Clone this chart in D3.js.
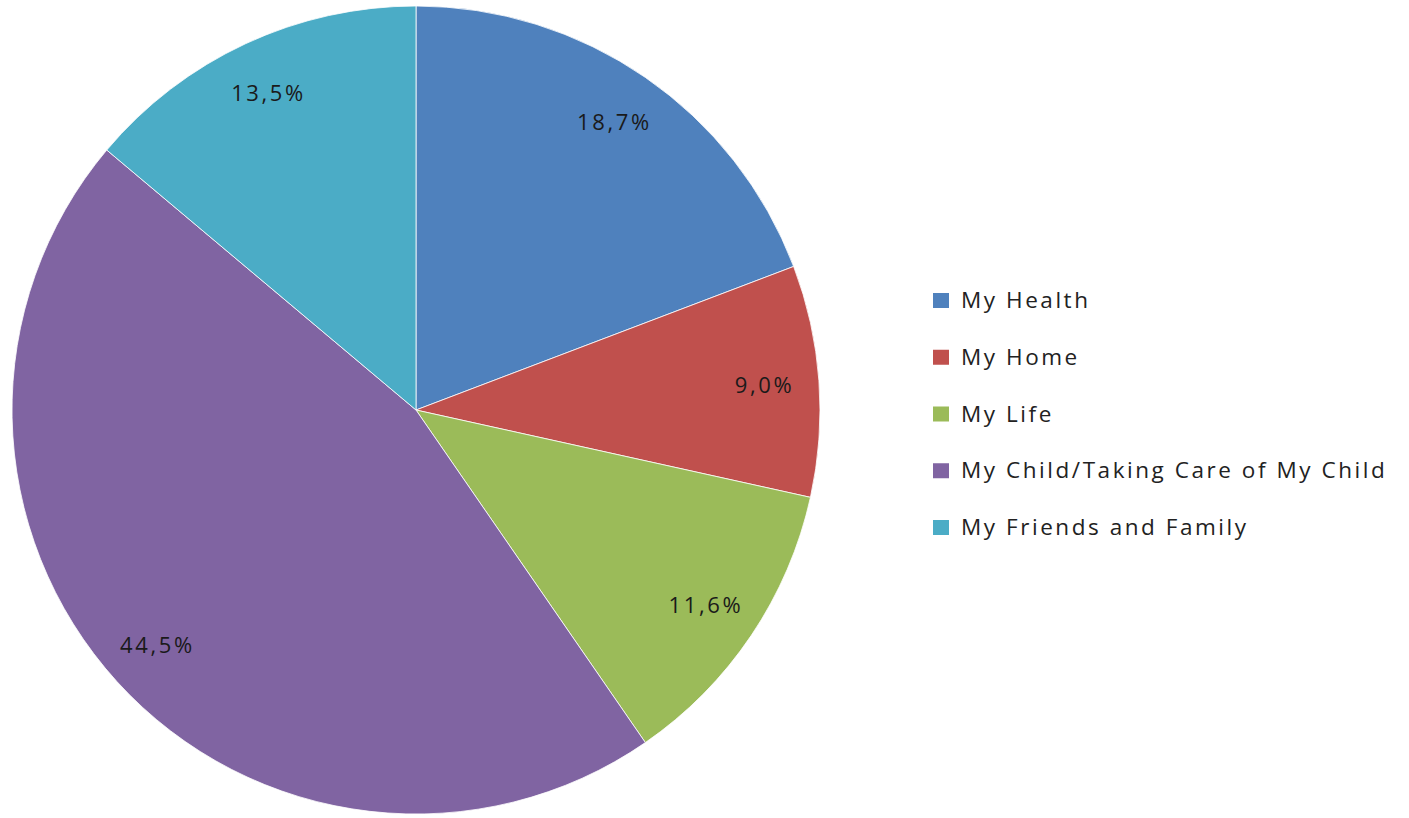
<!DOCTYPE html>
<html><head><meta charset="utf-8">
<script src="https://cdn.jsdelivr.net/npm/d3@7"></script>
<style>body{margin:0;background:#fff;} text{font-family:"Open Sans","Noto Sans",sans-serif;}</style>
</head><body>
<svg id="chart" width="1409" height="818"></svg>
<script>
const categories = ["My Health","My Home","My Life","My Child/Taking Care of My Child","My Friends and Family"];
const values = [18.7, 9.0, 11.6, 44.5, 13.5];
const colors = ["#4F81BD","#C0504D","#9BBB59","#8064A2","#4BACC6"];

const svg = d3.select("#chart");
const cx = 416, cy = 410, R = 404;
const data = categories.map((c,i)=>({cat:c, value:values[i], color:colors[i]}));
const pie = d3.pie().value(d=>d.value).sort(null);
const arcs = pie(data);
const arc = d3.arc().innerRadius(0).outerRadius(R);
const labelArc = d3.arc().innerRadius(R*0.865).outerRadius(R*0.865);
const g = svg.append("g").attr("transform",`translate(${cx},${cy})`);
g.selectAll("path").data(arcs).join("path")
  .attr("d",arc).attr("fill",d=>d.data.color)
  .attr("stroke","#fff").attr("stroke-width",0.8);
const fmt = v => v.toFixed(1).replace(".",",") + "%";
g.selectAll("text.lbl").data(arcs).join("text").attr("class","lbl")
  .attr("transform",d=>`translate(${labelArc.centroid(d)})`)
  .attr("text-anchor","middle").attr("dy","0.36em")
  .attr("font-size",22).attr("letter-spacing",2.6).attr("font-weight",500).attr("fill","#1a1a1a")
  .text(d=>fmt(d.data.value));

const y = d3.scalePoint().domain(categories).range([300,527]);
const lg = svg.append("g");
const item = lg.selectAll("g").data(data).join("g")
  .attr("transform",d=>`translate(933,${y(d.cat)})`);
item.append("rect").attr("x",0).attr("y",-7).attr("width",16).attr("height",15).attr("fill",d=>d.color);
item.append("text").attr("x",28).attr("dy","0.36em").attr("font-size",22.5).attr("letter-spacing",2.55).attr("font-weight",500).attr("fill","#222").text(d=>d.cat);
</script>
</body></html>
